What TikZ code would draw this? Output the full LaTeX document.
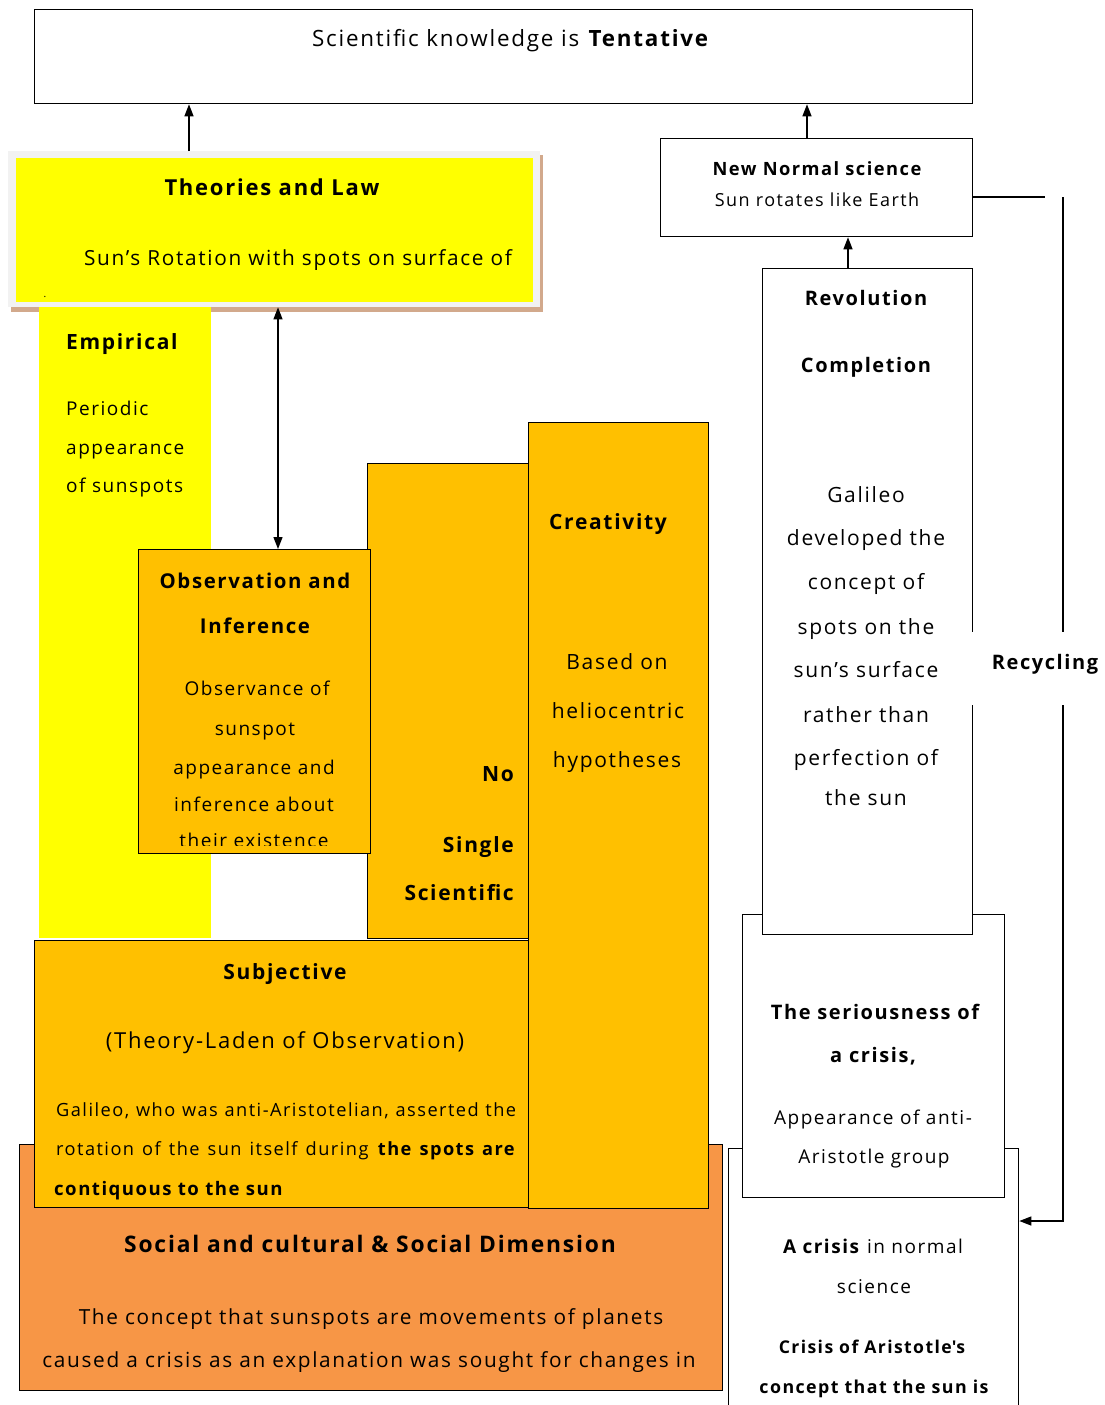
\documentclass[tikz,border=0pt]{standalone}
\usepackage{fontspec}
\setmainfont{Open Sans}[LetterSpace=8]
\usetikzlibrary{arrows.meta}
\definecolor{yel}{HTML}{FFFF00}
\definecolor{gold}{HTML}{FFC000}
\definecolor{org}{HTML}{F79646}
\definecolor{framec}{HTML}{F2F2F2}
\definecolor{shad}{HTML}{D2A98C}
\newcommand\fs[1]{\fontsize{#1}{#1}\selectfont}
\begin{document}
\begin{tikzpicture}[x=1pt,y=-1pt,
  box/.style={draw=black, line width=1.3pt, inner sep=0pt, anchor=north west},
  plain/.style={inner sep=0pt, anchor=north west},
  tx/.style={inner sep=0pt, anchor=mid, yshift=-6pt, font=\fs{20}},
  bx/.style={inner sep=0pt, anchor=mid, yshift=-6pt, font=\fs{20}\bfseries},
  arr/.style={line width=1.3pt, -{Triangle[length=12pt,width=9pt]}},
  arrb/.style={line width=1.3pt, {Triangle[length=12pt,width=9pt]}-{Triangle[length=12pt,width=9pt]}},
  ln/.style={line width=1.3pt}]
\useasboundingbox (0,0) rectangle (1105,1405);

% ---------- top box
\node[box, fill=white, minimum width=938, minimum height=94] (top) at (34,9) {};
\node[tx, font=\fs{22.4}] (toptext) at (511,38) {Scientific knowledge is \textbf{Tentative}};

% ---------- theories and law
\fill[shad] (11,155) rectangle (543,312);
\node[plain, fill=framec, minimum width=532, minimum height=156] (theoriesframe) at (8,151) {};
\node[plain, fill=yel, minimum width=517, minimum height=144] (theories) at (16,158) {};
\node[bx, font=\fs{22}\bfseries] (theoriestitle) at (272,187) {Theories and Law};
\node[tx, font=\fs{20.8}] (theoriesbody) at (298,257) {Sun’s Rotation with spots on surface of};
\node[tx, font=\fs{10}] (dot) at (45,289) {.};

% ---------- empirical
\node[plain, fill=yel, minimum width=172, minimum height=631] (empirical) at (39,307) {};
\node[bx, anchor=mid west, font=\fs{21}\bfseries] (emptitle) at (66,341) {Empirical};
\node[tx, anchor=mid west, font=\fs{19}] (emp1) at (66,407) {Periodic};
\node[tx, anchor=mid west, font=\fs{19}] (emp2) at (66,446) {appearance};
\node[tx, anchor=mid west, font=\fs{19}] (emp3) at (66,484) {of sunspots};

% ---------- social
\node[box, fill=org, minimum width=703, minimum height=246] (social) at (19,1144) {};
\node[bx, font=\fs{22.8}\bfseries] (socialtitle) at (370,1244) {Social and cultural \& Social Dimension};
\node[tx, font=\fs{20.8}] (social1) at (371,1316) {The concept that sunspots are movements of planets};
\node[tx, font=\fs{20.8}] (social2) at (369,1359) {caused a crisis as an explanation was sought for changes in};

% ---------- no single / creativity / subjective
\node[box, fill=gold, minimum width=161, minimum height=475] (nosingle) at (367,463) {};
\node[bx, anchor=mid east, font=\fs{21}\bfseries] (ns1) at (514,773) {No};
\node[bx, anchor=mid east, font=\fs{21}\bfseries] (ns2) at (514,844) {Single};
\node[bx, anchor=mid east, font=\fs{21}\bfseries] (ns3) at (514,892) {Scientific};

\node[box, fill=gold, minimum width=180, minimum height=786] (creativity) at (528,422) {};
\node[bx, anchor=mid west, font=\fs{21}\bfseries] (crtitle) at (549,521) {Creativity};
\node[tx, font=\fs{21}] (cr1) at (617,661) {Based on};
\node[tx, font=\fs{21}] (cr2) at (618,710) {heliocentric};
\node[tx, font=\fs{21}] (cr3) at (617,759) {hypotheses};

\node[box, fill=gold, minimum width=494, minimum height=267] (subjective) at (34,940) {};
\node[bx, font=\fs{21}\bfseries] (subtitle) at (285,971) {Subjective};
\node[tx, font=\fs{22}] (sub1) at (285,1040) {(Theory-Laden of Observation)};
\node[tx, anchor=mid west, font=\fs{18.2}] (sub2) at (56,1108) {\makebox[460pt][s]{Galileo, who was anti-Aristotelian, asserted the}};
\node[tx, anchor=mid west, font=\fs{18.2}] (sub3) at (56,1147) {\makebox[460pt][s]{rotation of the sun itself during \textbf{the spots are}}};
\node[tx, anchor=mid west, font=\fs{18.6}\bfseries] (sub4) at (54,1187) {contiquous to the sun};

% ---------- observation and inference
\node[box, fill=gold, minimum width=232, minimum height=304] (obs) at (138,549) {};
\node[bx, font=\fs{20.4}\bfseries] (obstitle1) at (255,580) {Observation and};
\node[bx, font=\fs{20.4}\bfseries] (obstitle2) at (255,625) {Inference};
\node[tx, font=\fs{19}] (obs1) at (257,687) {Observance of};
\node[tx, font=\fs{19}] (obs2) at (255,727) {sunspot};
\node[tx, font=\fs{19}] (obs3) at (254,766) {appearance and};
\node[tx, font=\fs{19}] (obs4) at (254,803) {inference about};
\begin{scope}
\clip (139,820) rectangle (369,845);
\node[tx, font=\fs{19}] (obs5) at (254,839) {their existence};
\end{scope}

% ---------- right column
\node[box, fill=white, minimum width=290, minimum height=270] (crisis) at (728,1148) {};
\node[tx, font=\fs{19}] (cri1) at (873,1245) {\textbf{A crisis} in normal};
\node[tx, font=\fs{19}] (cri2) at (874,1285) {science};
\node[bx, font=\fs{17.6}\bfseries] (cri3) at (872,1345) {Crisis of Aristotle\textquotesingle s};
\node[bx, font=\fs{17.8}\bfseries] (cri4) at (874,1385) {concept that the sun is};

\node[box, fill=white, minimum width=262, minimum height=283] (serious) at (742,914) {};
\node[bx] (ser1) at (875,1011) {The seriousness of};
\node[bx] (ser2) at (873,1054) {a crisis,};
\node[tx, font=\fs{19}] (ser3) at (873,1116) {Appearance of anti-};
\node[tx, font=\fs{19}] (ser4) at (874,1155) {Aristotle group};

\node[box, fill=white, minimum width=210, minimum height=666] (revolution) at (762,268) {};
\node[bx] (rev1) at (866,297) {Revolution};
\node[bx] (rev2) at (866,364) {Completion};
\node[tx, font=\fs{21}] (rev3) at (866,494) {Galileo};
\node[tx, font=\fs{21}] (rev4) at (866,537) {developed the};
\node[tx, font=\fs{21}] (rev5) at (866,581) {concept of};
\node[tx, font=\fs{21}] (rev6) at (866,626) {spots on the};
\node[tx, font=\fs{21}] (rev7) at (866,669) {sun’s surface};
\node[tx, font=\fs{21}] (rev8) at (866,714) {rather than};
\node[tx, font=\fs{21}] (rev9) at (866,757) {perfection of};
\node[tx, font=\fs{21}] (rev10) at (866,797) {the sun};

\node[box, fill=white, minimum width=312, minimum height=98] (newnormal) at (660,138) {};
\node[bx, font=\fs{18.3}\bfseries] (nn1) at (817,167) {New Normal science};
\node[tx, font=\fs{18}] (nn2) at (817,198) {Sun rotates like Earth};

% ---------- connectors
\coordinate (xa) at (189,0);
\coordinate (xb) at (807,0);
\coordinate (xc) at (848,0);
\coordinate (xd) at (278,0);
\draw[arr] (theoriesframe.north -| xa) -- (top.south -| xa);
\draw[arr] (newnormal.north -| xb) -- (top.south -| xb);
\draw[arr] (revolution.north -| xc) -- (newnormal.south -| xc);
\draw[arrb] (theoriesframe.south -| xd) -- (obs.north -| xd);

% recycling
\coordinate (r0) at (1045,197);
\coordinate (r1) at (1063,197);
\coordinate (r2) at (1063,1221);
\draw[ln] (newnormal.east |- r0) -- (r0);
\draw[arr] (r1) -- (r2) -- (crisis.east |- r2);
\fill[white] (966,632) rectangle (1105,705);
\node[bx] (recycling) at (1045,661) {Recycling};
\end{tikzpicture}
\end{document}
